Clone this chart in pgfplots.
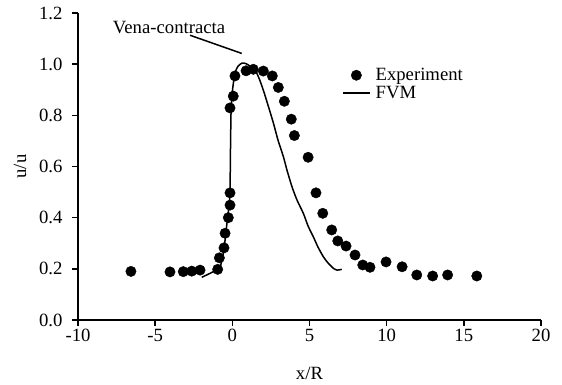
\documentclass[border=0pt]{standalone}
\usepackage{pgfplots}
\pgfplotsset{compat=1.18}
\usepackage{fontspec}
\setmainfont{Liberation Serif}
\begin{document}
\begin{tikzpicture}[font=\fontsize{18.7}{21}\selectfont]
\useasboundingbox (-78pt,-65pt) rectangle (484pt,320pt);
\begin{axis}[
  scale only axis,
  width=463pt, height=307pt,
  xmin=-10, xmax=20, ymin=0, ymax=1.2,
  axis lines*=left,
  axis line style={line width=1.6pt},
  tick style={line width=1.6pt, black},
  tick align=outside,
  major tick length=6pt,
  xtick={-10,-5,0,5,10,15,20},
  xticklabels={-10,-5,0,5,10,15,20},
  ytick={0,0.2,0.4,0.6,0.8,1.0,1.2},
  yticklabels={0.0,0.2,0.4,0.6,0.8,1.0,1.2},
  yticklabel style={xshift=-6pt},
  xlabel={x/R},
  ylabel={u/u},
  xlabel style={at={(axis description cs:0.5,-0.173)}, anchor=center},
  ylabel style={at={(axis description cs:-0.125,0.5)}, anchor=center, rotate=0},
  legend style={at={(0.570,0.827)}, anchor=north west, draw=none, fill=none,
    font=\fontsize{18.7}{21}\selectfont, row sep=0pt, inner sep=0pt, column sep=3pt},
  legend cell align=left,
  legend image code/.code={\draw[mark repeat=2,mark phase=2,#1] plot coordinates {(0pt,0pt) (13.5pt,0pt) (27pt,0pt)};},
  clip=false,
]
\addplot[only marks, mark=*, mark size=5.2pt, black] coordinates {
(-6.57,0.190) (-4.04,0.188) (-3.18,0.189) (-2.63,0.191) (-2.09,0.195)
(-0.95,0.198) (-0.84,0.243) (-0.54,0.282) (-0.47,0.339) (-0.26,0.400)
(-0.15,0.449) (-0.15,0.497) (-0.15,0.829) (0.06,0.875) (0.17,0.954)
(0.89,0.974) (1.36,0.980) (2.01,0.973) (2.59,0.954) (2.98,0.909)
(3.37,0.855) (3.82,0.785) (4.02,0.721) (4.91,0.636) (5.42,0.497)
(5.86,0.417) (6.44,0.352) (6.83,0.309) (7.37,0.289) (7.95,0.254)
(8.45,0.215) (8.92,0.206) (9.96,0.227) (11.00,0.208) (11.95,0.176)
(12.98,0.172) (13.95,0.176) (15.84,0.172)
};
\addlegendentry{Experiment}
\addplot[black, line width=1.5pt, smooth, tension=0.4] coordinates {
(-1.98,0.167) (-1.23,0.189) (-0.80,0.208) (-0.60,0.254) (-0.47,0.3125)
(-0.34,0.383) (-0.21,0.449) (-0.15,0.508) (-0.12,0.664) (-0.08,0.820)
(0.01,0.898) (0.17,0.965) (0.37,0.992) (0.63,1.004) (0.89,1.002)
(1.15,0.992) (1.47,0.977) (1.73,0.945) (2.01,0.898) (2.31,0.840)
(2.66,0.770) (2.96,0.703) (3.31,0.638) (3.54,0.586) (3.87,0.520)
(4.19,0.469) (4.60,0.417) (4.91,0.367) (5.25,0.325) (5.55,0.285)
(5.90,0.247) (6.20,0.223) (6.55,0.202) (6.79,0.195) (7.09,0.198)
};
\addlegendentry{FVM}
\addplot[black, line width=1.5pt, forget plot] coordinates {(-2.74,1.113) (0.61,1.042)};
\node[anchor=center] at (axis cs:-4.10,1.145) {Vena-contracta};
\end{axis}
\end{tikzpicture}
\end{document}
